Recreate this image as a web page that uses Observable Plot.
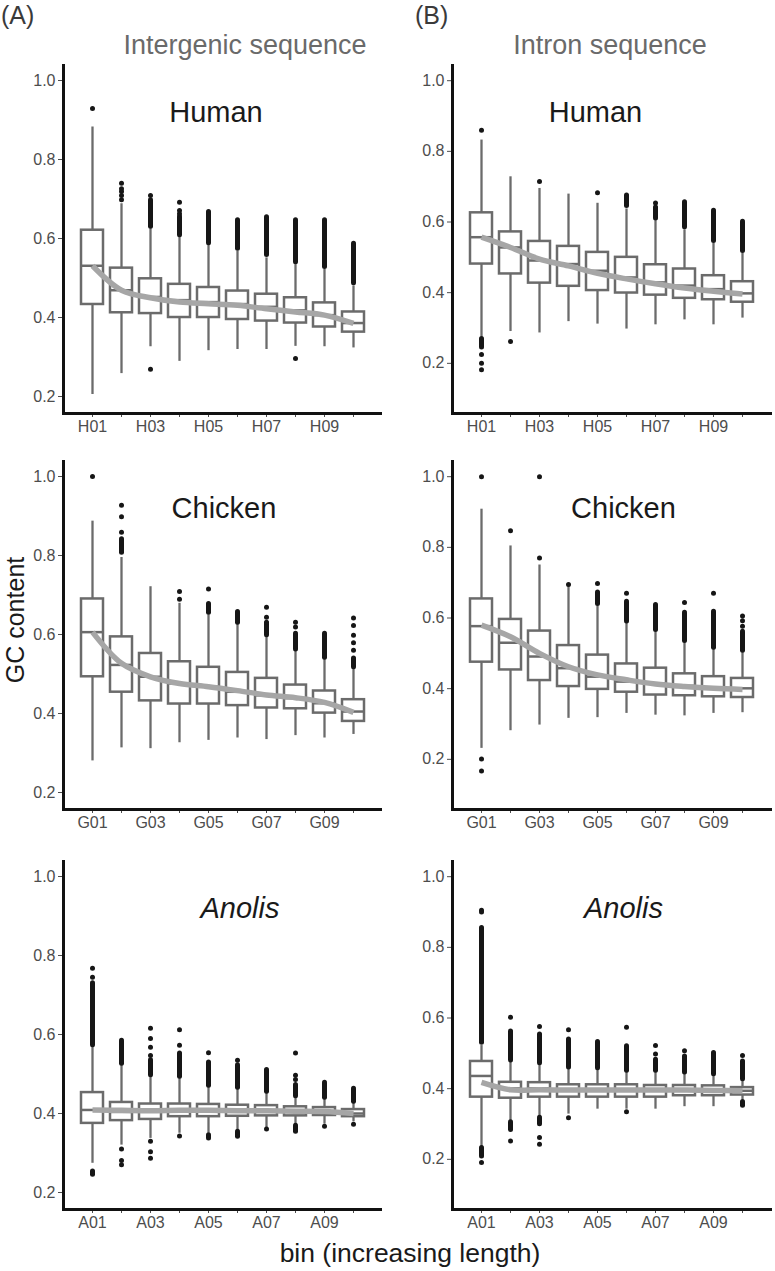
<!DOCTYPE html>
<html>
<head>
<meta charset="utf-8">
<script src="https://cdn.jsdelivr.net/npm/d3@7"></script>
<script src="https://cdn.jsdelivr.net/npm/@observablehq/plot@0.6"></script>
<style>
  html, body { margin: 0; padding: 0; background: white; }
  #fig { position: relative; width: 775px; height: 1271px; background: white; font-family: "Liberation Sans", Arial, sans-serif; overflow: hidden; }
  .lab { position: absolute; line-height: 1.15; white-space: nowrap; }
  .pl { position: absolute; }
</style>
</head>
<body>
<div id="fig"></div>
<script>
// ---------- categories & tick labels ----------
const binsH = ["H01","H02","H03","H04","H05","H06","H07","H08","H09","H10"];
const binsG = ["G01","G02","G03","G04","G05","G06","G07","G08","G09","G10"];
const binsA = ["A01","A02","A03","A04","A05","A06","A07","A08","A09","A10"];
const ticksH = ["H01","H03","H05","H07","H09"];
const ticksG = ["G01","G03","G05","G07","G09"];
const ticksA = ["A01","A03","A05","A07","A09"];
const yTicks = [0.2, 0.4, 0.6, 0.8, 1.0];

// ---------- (A) intergenic, Human ----------
const ahLo  = [0.205,0.258,0.326,0.289,0.316,0.319,0.319,0.327,0.326,0.323];
const ahQ1  = [0.433,0.412,0.410,0.400,0.400,0.395,0.391,0.386,0.376,0.363];
const ahMed = [0.531,0.469,0.452,0.444,0.439,0.434,0.427,0.418,0.406,0.386];
const ahQ3  = [0.621,0.525,0.498,0.484,0.476,0.467,0.459,0.450,0.437,0.414];
const ahHi  = [0.882,0.688,0.625,0.604,0.583,0.568,0.551,0.534,0.522,0.480];
const ahFit = [0.531,0.469,0.450,0.439,0.435,0.431,0.422,0.414,0.406,0.385];
const ahOut = [[0,0.929],[1,0.740],[1,0.726],[1,0.719],[1,0.709],[1,0.698],[2,0.709],[2,0.269],[3,0.692],[3,0.671],[3,0.663],[7,0.296]];
const ahRun = [[2,0.630,0.697],[3,0.608,0.655],[4,0.588,0.667],[5,0.574,0.646],[6,0.558,0.654],[7,0.540,0.646],[8,0.528,0.646],[9,0.487,0.587]];

// ---------- (B) intron, Human ----------
const bhLo  = [0.274,0.290,0.286,0.318,0.311,0.297,0.309,0.323,0.309,0.328];
const bhQ1  = [0.481,0.453,0.427,0.418,0.406,0.399,0.393,0.384,0.380,0.373];
const bhMed = [0.557,0.528,0.491,0.481,0.462,0.443,0.429,0.420,0.410,0.398];
const bhQ3  = [0.626,0.572,0.545,0.531,0.514,0.500,0.479,0.467,0.448,0.431];
const bhHi  = [0.832,0.728,0.695,0.679,0.653,0.637,0.604,0.578,0.540,0.512];
const bhFit = [0.557,0.528,0.495,0.476,0.455,0.439,0.425,0.413,0.404,0.396];
const bhOut = [[0,0.860],[0,0.225],[0,0.200],[0,0.182],[1,0.262],[2,0.715],[4,0.683],[6,0.654]];
const bhRun = [[0,0.245,0.269],[5,0.645,0.675],[6,0.610,0.641],[7,0.585,0.656],[8,0.546,0.632],[9,0.518,0.601]];

// ---------- (A) intergenic, Chicken ----------
const agLo  = [0.280,0.313,0.311,0.326,0.332,0.338,0.334,0.344,0.338,0.347];
const agQ1  = [0.493,0.454,0.432,0.424,0.424,0.420,0.414,0.412,0.401,0.380];
const agMed = [0.606,0.523,0.493,0.476,0.468,0.455,0.446,0.439,0.426,0.405];
const agQ3  = [0.690,0.594,0.552,0.531,0.517,0.504,0.489,0.472,0.457,0.435];
const agHi  = [0.887,0.795,0.721,0.679,0.650,0.627,0.594,0.558,0.537,0.514];
const agFit = [0.606,0.527,0.493,0.476,0.468,0.458,0.447,0.440,0.428,0.403];
const agOut = [[0,1.000],[1,0.927],[1,0.898],[1,0.859],[3,0.709],[3,0.689],[4,0.715],[6,0.669],[6,0.644],[6,0.631],[7,0.631],[7,0.619],[9,0.642],[9,0.623],[9,0.598],[9,0.579],[9,0.560]];
const agRun = [[1,0.807,0.841],[4,0.655,0.677],[5,0.630,0.657],[6,0.598,0.627],[7,0.562,0.602],[8,0.541,0.602],[9,0.517,0.539]];

// ---------- (B) intron, Chicken ----------
const bgLo  = [0.231,0.281,0.297,0.316,0.318,0.330,0.325,0.323,0.330,0.332];
const bgQ1  = [0.475,0.453,0.423,0.406,0.398,0.390,0.382,0.380,0.377,0.375];
const bgMed = [0.577,0.530,0.491,0.458,0.434,0.420,0.415,0.408,0.403,0.401];
const bgQ3  = [0.654,0.596,0.563,0.522,0.495,0.470,0.458,0.442,0.434,0.429];
const bgHi  = [0.908,0.804,0.750,0.689,0.634,0.585,0.561,0.530,0.511,0.502];
const bgFit = [0.580,0.547,0.500,0.462,0.439,0.425,0.413,0.406,0.401,0.398];
const bgOut = [[0,1.000],[0,0.201],[0,0.167],[1,0.847],[2,1.000],[2,0.770],[3,0.695],[4,0.698],[5,0.670],[7,0.644],[8,0.670],[9,0.606],[9,0.592],[9,0.577]];
const bgRun = [[4,0.640,0.672],[5,0.590,0.646],[6,0.566,0.637],[7,0.535,0.615],[8,0.516,0.618],[9,0.507,0.561]];

// ---------- (A) intergenic, Anolis ----------
const aaLo  = [0.274,0.320,0.337,0.350,0.350,0.358,0.364,0.371,0.373,0.379];
const aaQ1  = [0.375,0.382,0.385,0.392,0.392,0.393,0.394,0.394,0.395,0.392];
const aaMed = [0.409,0.404,0.406,0.410,0.409,0.407,0.407,0.407,0.406,0.400];
const aaQ3  = [0.453,0.428,0.424,0.424,0.423,0.421,0.420,0.417,0.415,0.410];
const aaHi  = [0.568,0.522,0.493,0.491,0.466,0.461,0.451,0.440,0.436,0.427];
const aaFit = [0.409,0.408,0.407,0.408,0.408,0.407,0.407,0.406,0.405,0.400];
const aaOut = [[0,0.768],[0,0.745],[1,0.310],[1,0.281],[1,0.270],[2,0.616],[2,0.590],[2,0.568],[2,0.547],[2,0.330],[2,0.303],[2,0.287],[3,0.612],[3,0.573],[3,0.343],[4,0.554],[5,0.535],[6,0.361],[7,0.553],[7,0.497],[7,0.486],[8,0.368],[9,0.373]];
const aaRun = [[0,0.573,0.730],[0,0.245,0.253],[1,0.526,0.584],[2,0.497,0.535],[3,0.493,0.552],[4,0.470,0.529],[4,0.337,0.345],[5,0.465,0.522],[5,0.341,0.354],[6,0.455,0.510],[7,0.444,0.472],[7,0.354,0.369],[8,0.440,0.478],[9,0.430,0.463]];

// ---------- (B) intron, Anolis ----------
const baLo  = [0.236,0.309,0.321,0.328,0.342,0.342,0.342,0.349,0.349,0.368];
const baQ1  = [0.376,0.373,0.376,0.376,0.376,0.376,0.376,0.380,0.380,0.382];
const baMed = [0.436,0.401,0.401,0.398,0.397,0.397,0.397,0.396,0.396,0.394];
const baQ3  = [0.477,0.418,0.417,0.411,0.411,0.411,0.409,0.409,0.408,0.403];
const baHi  = [0.522,0.477,0.468,0.456,0.453,0.447,0.447,0.441,0.437,0.422];
const baFit = [0.418,0.397,0.397,0.396,0.396,0.396,0.396,0.396,0.395,0.394];
const baOut = [[0,0.905],[0,0.900],[0,0.191],[1,0.602],[1,0.252],[2,0.576],[2,0.262],[2,0.243],[3,0.567],[3,0.318],[5,0.574],[5,0.335],[6,0.522],[6,0.498],[7,0.507],[9,0.494]];
const baRun = [[0,0.530,0.855],[0,0.208,0.232],[1,0.480,0.562],[1,0.283,0.305],[2,0.472,0.553],[2,0.299,0.318],[3,0.460,0.539],[4,0.458,0.532],[5,0.451,0.520],[6,0.451,0.482],[7,0.446,0.491],[8,0.441,0.501],[9,0.427,0.477],[9,0.352,0.362]];

// ---------- layout ----------
const yDomLeft = [0.157, 1.038];
const yDomRight = [0.058, 1.043];
const fig = document.getElementById("fig");
const FONT = "Liberation Sans, Arial, sans-serif";
const BOX = "#6b6b6b", DOTC = "#161616", FITC = "#a6a6a6", AXC = "#111111";

function panel(p) {
  const rows = p.bins.map((b, i) => ({bin: b, lo: p.lo[i], q1: p.q1[i], med: p.med[i], q3: p.q3[i], hi: p.hi[i], fit: p.fit[i]}));
  const pts = p.out.map(([i, v]) => ({bin: p.bins[i], v}));
  const runs = p.run.map(([i, a, b]) => ({bin: p.bins[i], a, b}));
  const svg = Plot.plot({
    width: p.width, height: 15 + 348 + 30,
    marginTop: 15, marginBottom: 30, marginLeft: p.ml, marginRight: p.mr,
    style: {background: "transparent", fontFamily: FONT, fontSize: "16px", color: "#4d4d4d"},
    x: {type: "band", domain: p.bins, paddingInner: 0.233, paddingOuter: 0.45,
        tickSize: 4, tickPadding: 3, tickFormat: d => p.ticks.includes(d) ? d : "", label: null},
    y: {domain: p.yDom, ticks: yTicks, tickFormat: d3.format(".1f"), tickSize: 5, tickPadding: 3, label: null},
    marks: [
      Plot.ruleX(rows, {x: "bin", y1: "lo", y2: "hi", stroke: BOX, strokeWidth: 2.3}),
      Plot.barY(rows, {x: "bin", y1: "q1", y2: "q3", fill: "white", stroke: BOX, strokeWidth: 2.5}),
      Plot.tickY(rows, {x: "bin", y: "med", stroke: BOX, strokeWidth: 2.5}),
      Plot.ruleX(runs, {x: "bin", y1: "a", y2: "b", stroke: DOTC, strokeWidth: 5, strokeLinecap: "round"}),
      Plot.dot(pts, {x: "bin", y: "v", r: 2.5, fill: DOTC}),
      Plot.line(rows, {x: "bin", y: "fit", stroke: FITC, strokeWidth: 5.5, curve: "catmull-rom", strokeLinecap: "butt"}),
      Plot.text([p.title], {frameAnchor: "top", dx: p.tdx, dy: 36, fontSize: 29, fill: "#1a1a1a", fontStyle: p.italic ? "italic" : "normal"}),
      Plot.ruleY([p.yDom[0]], {stroke: AXC, strokeWidth: 3}),
      Plot.frame({anchor: "left", stroke: AXC, strokeWidth: 3})
    ]
  });
  svg.classList.add("pl");
  svg.style.left = p.left + "px";
  svg.style.top = (p.top - 15) + "px";
  svg.style.position = "absolute";
  fig.appendChild(svg);
}

const L = {width: 390, ml: 63, mr: 8, left: 0, yDom: yDomLeft};
const R = {width: 385, ml: 62, mr: 3, left: 390, yDom: yDomRight};

panel({...L, top: 65, bins: binsH, ticks: ticksH, lo: ahLo, q1: ahQ1, med: ahMed, q3: ahQ3, hi: ahHi, fit: ahFit, out: ahOut, run: ahRun, title: "Human", tdx: -7});
panel({...R, top: 65, bins: binsH, ticks: ticksH, lo: bhLo, q1: bhQ1, med: bhMed, q3: bhQ3, hi: bhHi, fit: bhFit, out: bhOut, run: bhRun, title: "Human", tdx: -17});
panel({...L, top: 461, bins: binsG, ticks: ticksG, lo: agLo, q1: agQ1, med: agMed, q3: agQ3, hi: agHi, fit: agFit, out: agOut, run: agRun, title: "Chicken", tdx: 1});
panel({...R, top: 461, bins: binsG, ticks: ticksG, lo: bgLo, q1: bgQ1, med: bgMed, q3: bgQ3, hi: bgHi, fit: bgFit, out: bgOut, run: bgRun, title: "Chicken", tdx: 11});
panel({...L, top: 861, bins: binsA, ticks: ticksA, lo: aaLo, q1: aaQ1, med: aaMed, q3: aaQ3, hi: aaHi, fit: aaFit, out: aaOut, run: aaRun, title: "Anolis", italic: true, tdx: 17});
panel({...R, top: 861, bins: binsA, ticks: ticksA, lo: baLo, q1: baQ1, med: baMed, q3: baQ3, hi: baHi, fit: baFit, out: baOut, run: baRun, title: "Anolis", italic: true, tdx: 11});

// ---------- free text ----------
function label(text, css) {
  const d = document.createElement("div");
  d.className = "lab";
  d.textContent = text;
  Object.assign(d.style, css);
  fig.appendChild(d);
}
label("(A)", {left: "1px", top: "1px", fontSize: "25px", color: "#3a3a3a"});
label("(B)", {left: "415px", top: "1px", fontSize: "25px", color: "#3a3a3a"});
label("Intergenic sequence", {left: "245px", top: "30px", fontSize: "27px", color: "#6a6a6a", transform: "translateX(-50%)"});
label("Intron sequence", {left: "610px", top: "30px", fontSize: "27px", color: "#6a6a6a", transform: "translateX(-50%)"});
label("GC content", {left: "15px", top: "620px", fontSize: "25px", color: "#1a1a1a", transform: "translate(-50%,-50%) rotate(-90deg)"});
label("bin (increasing length)", {left: "410px", top: "1238px", fontSize: "26.5px", color: "#1a1a1a", transform: "translateX(-50%)"});
</script>
</body>
</html>
